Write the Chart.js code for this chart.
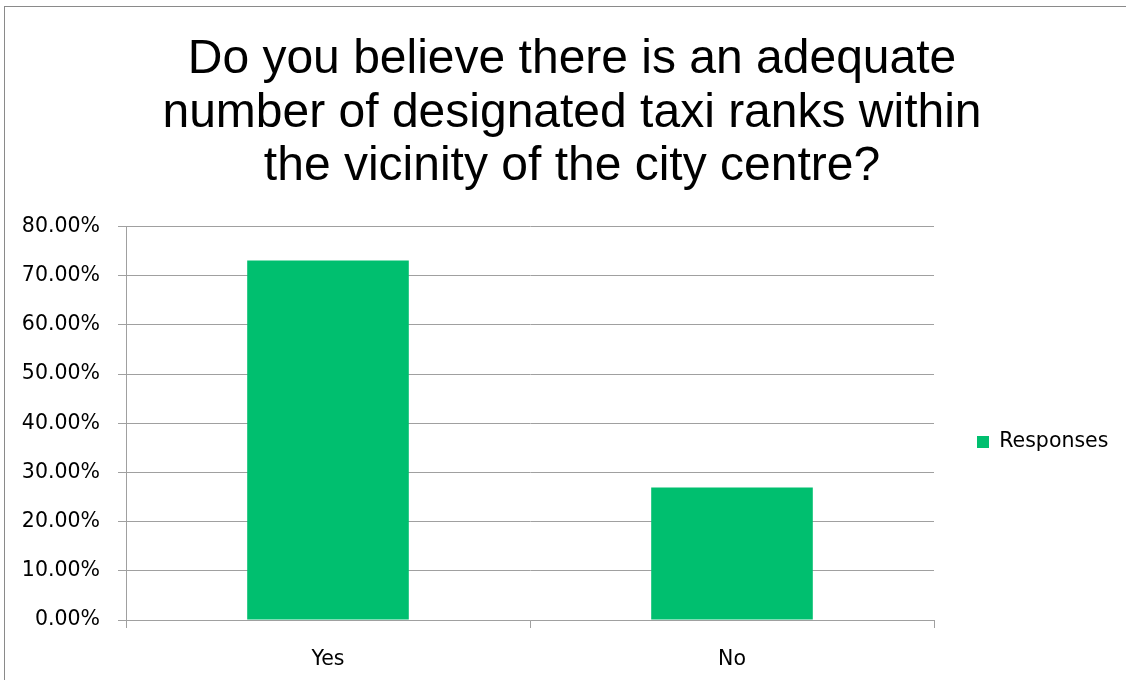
<!DOCTYPE html>
<html>
<head>
<meta charset="utf-8">
<script src="https://cdn.jsdelivr.net/npm/chart.js@4.4.1/dist/chart.umd.min.js"></script>
<style>
  html, body { margin: 0; padding: 0; background: #fff; overflow: hidden; }
  #wrap { position: relative; width: 1126px; height: 680px; }
  #frame { position: absolute; left: 4px; top: 6px; width: 1200px; height: 800px; border: 1px solid #8a8a8a; box-sizing: border-box; }
  canvas { position: absolute; left: 0; top: 0; }
</style>
</head>
<body>
<div id="wrap">
  <div id="frame"></div>
  <canvas id="c" width="1126" height="680"></canvas>
</div>
<script>
const titleLines = [
  "Do you believe there is an adequate",
  "number of designated taxi ranks within",
  "the vicinity of the city centre?"
];
const categories = ["Yes", "No"];
const seriesName = "Responses";
const responses = [73.08, 26.92];
const yTickValues = [0, 10, 20, 30, 40, 50, 60, 70, 80];

const GRID = '#a0a0a0';
const GREEN = '#00BF6F';
const labelFont = { family: '"DejaVu Sans", sans-serif', size: 20.5 };

new Chart(document.getElementById('c'), {
  type: 'bar',
  data: {
    labels: categories,
    datasets: [{
      label: seriesName,
      data: responses,
      backgroundColor: GREEN,
      borderWidth: 0,
      categoryPercentage: 1,
      barPercentage: 0.4
    }]
  },
  options: {
    responsive: false,
    animation: false,
    devicePixelRatio: 1,
    layout: { padding: { left: 18, right: 0, top: 0, bottom: 0 } },
    plugins: {
      tooltip: { enabled: false },
      title: {
        display: true,
        text: titleLines,
        color: '#000',
        font: { family: '"Liberation Sans", Arial, sans-serif', size: 48, weight: 'normal', lineHeight: 1.115 },
        padding: { top: 33, bottom: 33 }
      },
      legend: {
        display: true,
        position: 'right',
        align: 'center',
        title: {
          display: true,
          text: ' ',
          font: { size: 10, lineHeight: 1 },
          padding: { top: 0, bottom: 194 }
        },
        labels: {
          color: '#000',
          font: labelFont,
          boxWidth: 12,
          boxHeight: 12,
          padding: 43
        }
      }
    },
    scales: {
      x: {
        offset: true,
        grid: {
          offset: true,
          drawOnChartArea: false,
          drawTicks: true,
          tickLength: 8,
          color: GRID
        },
        border: { color: GRID, width: 1 },
        ticks: { color: '#000', font: labelFont, padding: 19 },
        afterFit: s => { s.height = 60; }
      },
      y: {
        min: 0,
        max: 80,
        afterBuildTicks: s => { s.ticks = yTickValues.map(v => ({ value: v })); },
        grid: { color: GRID, tickLength: 8, drawTicks: true },
        border: { color: GRID, width: 1 },
        ticks: {
          color: '#000',
          font: labelFont,
          padding: 18,
          callback: v => v.toFixed(2) + '%'
        },
        afterFit: s => { s.width = 108; }
      }
    }
  },
  plugins: [{
    id: 'fixLegendWidth',
    beforeInit(chart) {
      const lg = chart.legend;
      if (lg) {
        const fit = lg.fit;
        lg.fit = function () { fit.call(this); this.width = 192; };
      }
    }
  }]
});
</script>
</body>
</html>
